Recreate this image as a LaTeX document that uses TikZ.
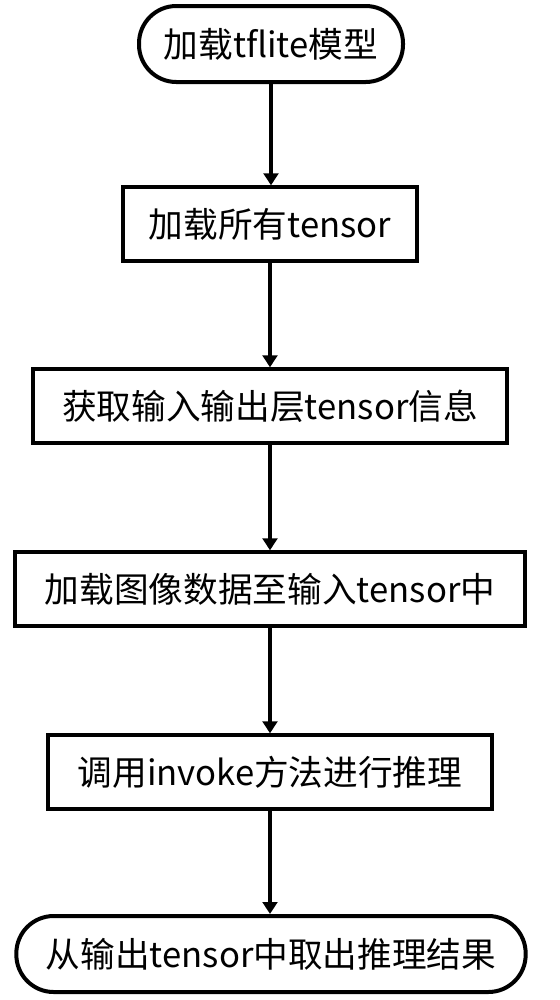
\documentclass[tikz,border=0pt]{standalone}
\usepackage{fontspec}
\setmainfont{Noto Sans CJK SC}
\usetikzlibrary{arrows.meta}

\begin{document}
\begin{tikzpicture}[x=0.75pt, y=-0.75pt,
    >={Triangle[width=11pt,length=9pt]},
    every node/.style={font=\fontsize{26}{30}\selectfont, inner sep=0pt},
    startstop/.style={draw, line width=3pt, rounded corners=28pt, minimum height=57pt},
    process/.style={draw, line width=3pt, minimum height=55pt}]
    \useasboundingbox (0,0) rectangle (560,1000);

    % Start / end
    \node[startstop, minimum width=198pt] (load) at (271,44) {加载tflite模型};
    \node[startstop, minimum width=382pt] (result) at (271,954) {从输出tensor中取出推理结果};

    % Steps
    \node[process, minimum width=221pt] (tensors) at (270,224) {加载所有tensor};
    \node[process, minimum width=356pt] (info) at (270,406) {获取输入输出层tensor信息};
    \node[process, minimum width=382pt] (image) at (270,589) {加载图像数据至输入tensor中};
    \node[process, minimum width=333pt] (invoke) at (270,772) {调用invoke方法进行推理};

    % Flow
    \foreach \a/\b in {load/tensors, tensors/info, info/image, image/invoke, invoke/result}
        \draw[->, line width=3.5pt] (\a.south) -- (\a.south |- \b.north);
\end{tikzpicture}
\end{document}
